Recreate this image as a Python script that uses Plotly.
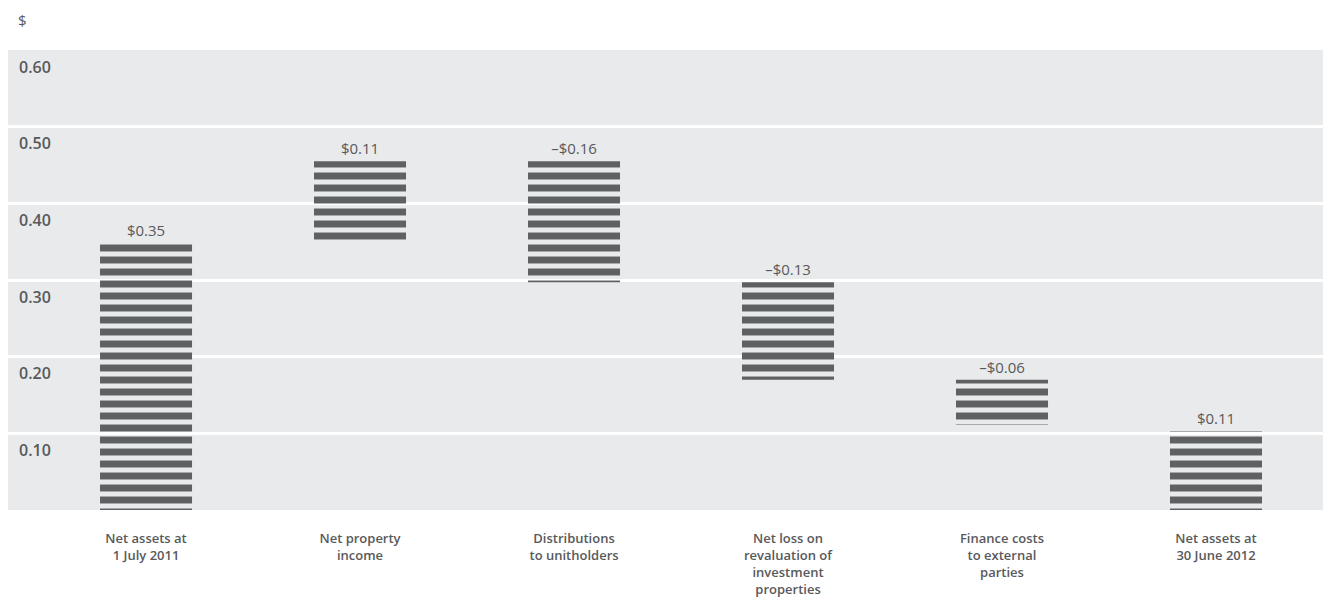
import numpy as np
import plotly.graph_objects as go

categories = [
    "Net assets at<br>1 July 2011",
    "Net property<br>income",
    "Distributions<br>to unitholders",
    "Net loss on<br>revaluation of<br>investment<br>properties",
    "Finance costs<br>to external<br>parties",
    "Net assets at<br>30 June 2012",
]
measures = ["absolute", "relative", "relative", "relative", "relative", "absolute"]
values = [0.348, 0.107, -0.158, -0.127, -0.059, 0.103]
value_labels = ["$0.35", "$0.11", "–$0.16", "–$0.13", "–$0.06", "$0.11"]
y_ticks = [0.10, 0.20, 0.30, 0.40, 0.50, 0.60]
y_tick_labels = ["0.10", "0.20", "0.30", "0.40", "0.50", "0.60"]

# waterfall geometry from the data
starts, ends = [], []
level = 0.0
for m, v in zip(measures, values):
    if m == "absolute":
        s, e = 0.0, v
    else:
        s, e = level, level + v
    level = e
    starts.append(s)
    ends.append(e)
starts = np.array(starts)
ends = np.array(ends)
bases = np.minimum(starts, ends)
heights = np.abs(ends - starts)

BG = "#e9eaec"
BAR = "#5f6062"
TXT = "#58595b"
FONT = "Open Sans"

x = list(range(len(categories)))

fig = go.Figure()
fig.add_trace(go.Bar(
    x=x,
    y=heights,
    base=bases,
    width=0.43,
    marker=dict(
        color=BAR,
        line=dict(width=0),
        pattern=dict(shape="-", size=12, solidity=0.58, fillmode="replace"),
    ),
    text=value_labels,
    textposition="outside",
    textfont=dict(family=FONT, size=15, color=TXT),
    cliponaxis=False,
    hoverinfo="skip",
))

fig.update_layout(
    width=1323,
    height=604,
    margin=dict(l=8, r=0, t=50, b=94),
    paper_bgcolor="white",
    plot_bgcolor=BG,
    showlegend=False,
    font=dict(family=FONT, color=TXT),
    xaxis=dict(
        range=[-0.645, 5.5],
        tickmode="array",
        tickvals=x,
        ticktext=categories,
        showgrid=False,
        zeroline=False,
        showline=False,
        ticks="",
        ticklabelstandoff=19,
        tickfont=dict(family=FONT, size=13, color=TXT, weight=600),
    ),
    yaxis=dict(
        range=[0, 0.6],
        tickmode="array",
        tickvals=y_ticks,
        ticktext=y_tick_labels,
        showgrid=True,
        gridcolor="white",
        gridwidth=3,
        zeroline=False,
        showline=False,
        ticks="",
        ticklabelposition="inside",
        ticklabelstandoff=8,
        ticklabelshift=17,
        tickfont=dict(family=FONT, size=16, color=TXT, weight=600),
    ),
    annotations=[dict(
        text="$", xref="paper", yref="paper", x=0, y=1,
        xanchor="left", yanchor="middle", xshift=8, yshift=30,
        showarrow=False, font=dict(family=FONT, size=15, color=TXT),
    )],
)

fig.write_html("out.html")
